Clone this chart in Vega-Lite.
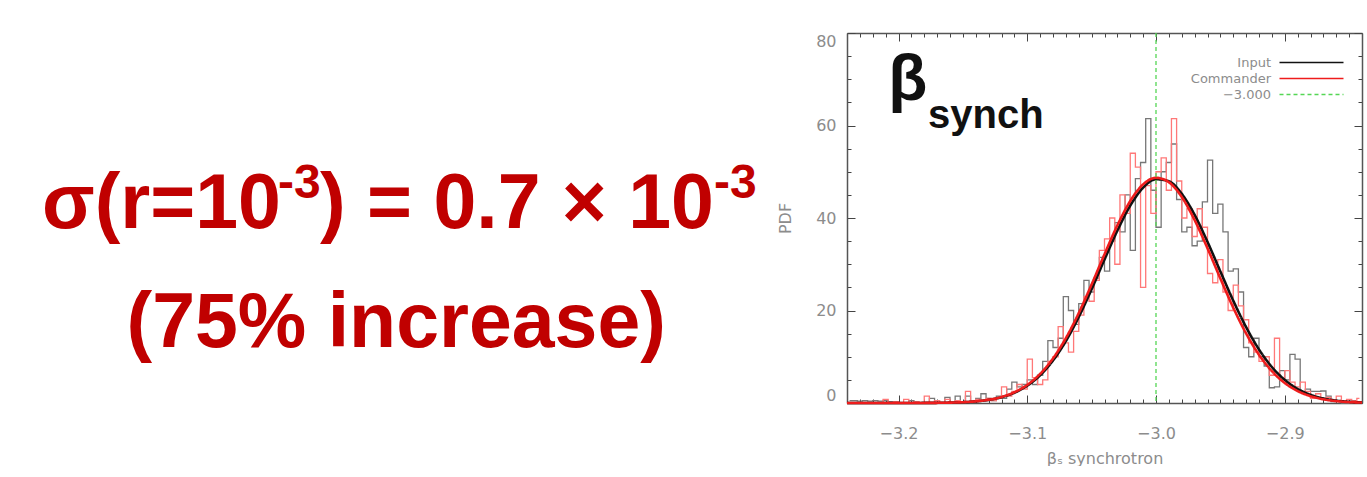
{
  "$schema": "https://vega.github.io/schema/vega-lite/v6.json",
  "background": "white",
  "padding": {"left": 0, "top": 32, "right": 0, "bottom": 0},
  "config": {
    "view": {"stroke": null},
    "font": "DejaVu Sans",
    "axis": {"grid": false}
  },
  "datasets": {
    "input_hist": [
      {"beta": -3.238, "pdf": 0.5}, {"beta": -3.234, "pdf": 0.5}, {"beta": -3.230, "pdf": 0.4}, {"beta": -3.226, "pdf": 0.5},
      {"beta": -3.222, "pdf": 0.4}, {"beta": -3.218, "pdf": 0.5}, {"beta": -3.214, "pdf": 0.4}, {"beta": -3.210, "pdf": 0.5},
      {"beta": -3.206, "pdf": 0.3}, {"beta": -3.202, "pdf": 0}, {"beta": -3.198, "pdf": 0}, {"beta": -3.194, "pdf": 0},
      {"beta": -3.190, "pdf": 0.5}, {"beta": -3.186, "pdf": 0}, {"beta": -3.182, "pdf": 0}, {"beta": -3.178, "pdf": 0},
      {"beta": -3.174, "pdf": 1.0}, {"beta": -3.170, "pdf": 0}, {"beta": -3.166, "pdf": 0}, {"beta": -3.162, "pdf": 1.2},
      {"beta": -3.158, "pdf": 0}, {"beta": -3.154, "pdf": 1.5}, {"beta": -3.150, "pdf": 0}, {"beta": -3.146, "pdf": 1.5},
      {"beta": -3.142, "pdf": 0.5}, {"beta": -3.138, "pdf": 1.0}, {"beta": -3.134, "pdf": 2.0}, {"beta": -3.130, "pdf": 1.0},
      {"beta": -3.126, "pdf": 0.5}, {"beta": -3.122, "pdf": 1.5}, {"beta": -3.118, "pdf": 1.0}, {"beta": -3.114, "pdf": 3.0},
      {"beta": -3.110, "pdf": 4.5}, {"beta": -3.106, "pdf": 3.5}, {"beta": -3.102, "pdf": 4.0}, {"beta": -3.098, "pdf": 5.0},
      {"beta": -3.094, "pdf": 4.0}, {"beta": -3.090, "pdf": 6.0}, {"beta": -3.086, "pdf": 9.0}, {"beta": -3.082, "pdf": 13.5},
      {"beta": -3.078, "pdf": 12.0}, {"beta": -3.074, "pdf": 14.0}, {"beta": -3.070, "pdf": 23.0}, {"beta": -3.066, "pdf": 20.0},
      {"beta": -3.062, "pdf": 17.0}, {"beta": -3.058, "pdf": 21.5}, {"beta": -3.054, "pdf": 26.5}, {"beta": -3.050, "pdf": 24.0},
      {"beta": -3.046, "pdf": 27.0}, {"beta": -3.042, "pdf": 31.5}, {"beta": -3.038, "pdf": 28.5}, {"beta": -3.034, "pdf": 35.0},
      {"beta": -3.030, "pdf": 39.0}, {"beta": -3.026, "pdf": 37.0}, {"beta": -3.022, "pdf": 45.0}, {"beta": -3.018, "pdf": 33.0},
      {"beta": -3.014, "pdf": 48.5}, {"beta": -3.010, "pdf": 52.0}, {"beta": -3.006, "pdf": 61.5}, {"beta": -3.002, "pdf": 46.0},
      {"beta": -2.998, "pdf": 38.0}, {"beta": -2.994, "pdf": 50.0}, {"beta": -2.990, "pdf": 52.0}, {"beta": -2.986, "pdf": 56.0},
      {"beta": -2.982, "pdf": 44.0}, {"beta": -2.978, "pdf": 37.0}, {"beta": -2.974, "pdf": 38.0}, {"beta": -2.970, "pdf": 34.0},
      {"beta": -2.966, "pdf": 35.0}, {"beta": -2.962, "pdf": 43.5}, {"beta": -2.958, "pdf": 52.5}, {"beta": -2.954, "pdf": 41.0},
      {"beta": -2.950, "pdf": 43.0}, {"beta": -2.946, "pdf": 37.0}, {"beta": -2.942, "pdf": 28.5}, {"beta": -2.938, "pdf": 29.0},
      {"beta": -2.934, "pdf": 24.0}, {"beta": -2.930, "pdf": 12.0}, {"beta": -2.926, "pdf": 10.0}, {"beta": -2.922, "pdf": 14.0},
      {"beta": -2.918, "pdf": 10.0}, {"beta": -2.914, "pdf": 8.0}, {"beta": -2.910, "pdf": 3.3}, {"beta": -2.906, "pdf": 3.5},
      {"beta": -2.902, "pdf": 7.0}, {"beta": -2.898, "pdf": 5.0}, {"beta": -2.894, "pdf": 10.5}, {"beta": -2.890, "pdf": 9.5},
      {"beta": -2.886, "pdf": 2.5}, {"beta": -2.882, "pdf": 3.0}, {"beta": -2.878, "pdf": 2.5}, {"beta": -2.874, "pdf": 2.5},
      {"beta": -2.870, "pdf": 2.6}, {"beta": -2.866, "pdf": 1.5}, {"beta": -2.862, "pdf": 0.3}, {"beta": -2.858, "pdf": 0.5},
      {"beta": -2.854, "pdf": 0}, {"beta": -2.850, "pdf": 0}, {"beta": -2.846, "pdf": 0.3}, {"beta": -2.842, "pdf": 0}
    ],
    "commander_hist": [
      {"beta": -3.238, "pdf": 0}, {"beta": -3.234, "pdf": 0}, {"beta": -3.230, "pdf": 0}, {"beta": -3.226, "pdf": 0},
      {"beta": -3.222, "pdf": 0}, {"beta": -3.218, "pdf": 0}, {"beta": -3.214, "pdf": 0}, {"beta": -3.210, "pdf": 0.8},
      {"beta": -3.206, "pdf": 0}, {"beta": -3.202, "pdf": 0.3}, {"beta": -3.198, "pdf": 0}, {"beta": -3.194, "pdf": 0.8},
      {"beta": -3.190, "pdf": 0}, {"beta": -3.186, "pdf": 0.3}, {"beta": -3.182, "pdf": 0}, {"beta": -3.178, "pdf": 1.5},
      {"beta": -3.174, "pdf": 0}, {"beta": -3.170, "pdf": 0.5}, {"beta": -3.166, "pdf": 0}, {"beta": -3.162, "pdf": 0.8},
      {"beta": -3.158, "pdf": 0}, {"beta": -3.154, "pdf": 0.5}, {"beta": -3.150, "pdf": 0.3}, {"beta": -3.146, "pdf": 2.5},
      {"beta": -3.142, "pdf": 0.5}, {"beta": -3.138, "pdf": 0.8}, {"beta": -3.134, "pdf": 0.5}, {"beta": -3.130, "pdf": 1.0},
      {"beta": -3.126, "pdf": 0.5}, {"beta": -3.122, "pdf": 1.0}, {"beta": -3.118, "pdf": 3.5}, {"beta": -3.114, "pdf": 1.5},
      {"beta": -3.110, "pdf": 2.5}, {"beta": -3.106, "pdf": 4.0}, {"beta": -3.102, "pdf": 3.0}, {"beta": -3.098, "pdf": 9.5},
      {"beta": -3.094, "pdf": 5.5}, {"beta": -3.090, "pdf": 4.0}, {"beta": -3.086, "pdf": 5.0}, {"beta": -3.082, "pdf": 9.0},
      {"beta": -3.078, "pdf": 10.0}, {"beta": -3.074, "pdf": 16.5}, {"beta": -3.070, "pdf": 13.0}, {"beta": -3.066, "pdf": 11.0},
      {"beta": -3.062, "pdf": 15.5}, {"beta": -3.058, "pdf": 19.0}, {"beta": -3.054, "pdf": 23.0}, {"beta": -3.050, "pdf": 22.0},
      {"beta": -3.046, "pdf": 26.5}, {"beta": -3.042, "pdf": 33.0}, {"beta": -3.038, "pdf": 35.5}, {"beta": -3.034, "pdf": 40.0},
      {"beta": -3.030, "pdf": 30.0}, {"beta": -3.026, "pdf": 45.0}, {"beta": -3.022, "pdf": 41.0}, {"beta": -3.018, "pdf": 54.0},
      {"beta": -3.014, "pdf": 51.0}, {"beta": -3.010, "pdf": 25.0}, {"beta": -3.006, "pdf": 47.0}, {"beta": -3.002, "pdf": 41.0},
      {"beta": -2.998, "pdf": 50.0}, {"beta": -2.994, "pdf": 53.0}, {"beta": -2.990, "pdf": 46.0}, {"beta": -2.986, "pdf": 61.5},
      {"beta": -2.982, "pdf": 48.0}, {"beta": -2.978, "pdf": 40.0}, {"beta": -2.974, "pdf": 42.0}, {"beta": -2.970, "pdf": 36.0},
      {"beta": -2.966, "pdf": 42.0}, {"beta": -2.962, "pdf": 38.0}, {"beta": -2.958, "pdf": 28.0}, {"beta": -2.954, "pdf": 26.0},
      {"beta": -2.950, "pdf": 31.0}, {"beta": -2.946, "pdf": 24.0}, {"beta": -2.942, "pdf": 20.0}, {"beta": -2.938, "pdf": 25.5},
      {"beta": -2.934, "pdf": 21.0}, {"beta": -2.930, "pdf": 18.0}, {"beta": -2.926, "pdf": 13.0}, {"beta": -2.922, "pdf": 11.0},
      {"beta": -2.918, "pdf": 9.0}, {"beta": -2.914, "pdf": 10.0}, {"beta": -2.910, "pdf": 6.0}, {"beta": -2.906, "pdf": 14.0},
      {"beta": -2.902, "pdf": 5.0}, {"beta": -2.898, "pdf": 7.0}, {"beta": -2.894, "pdf": 4.5}, {"beta": -2.890, "pdf": 3.5},
      {"beta": -2.886, "pdf": 4.5}, {"beta": -2.882, "pdf": 2.5}, {"beta": -2.878, "pdf": 1.0}, {"beta": -2.874, "pdf": 2.0},
      {"beta": -2.870, "pdf": 0.8}, {"beta": -2.866, "pdf": 1.2}, {"beta": -2.862, "pdf": 0.5}, {"beta": -2.858, "pdf": 1.5},
      {"beta": -2.854, "pdf": 0.3}, {"beta": -2.850, "pdf": 0.8}, {"beta": -2.846, "pdf": 0.5}, {"beta": -2.842, "pdf": 1.0}
    ],
    "fits": [
      {"series": "Input", "beta": -3.24, "pdf": 0}, {"series": "Input", "beta": -3.23, "pdf": 0}, {"series": "Input", "beta": -3.22, "pdf": 0},
      {"series": "Input", "beta": -3.21, "pdf": 0}, {"series": "Input", "beta": -3.20, "pdf": 0.01}, {"series": "Input", "beta": -3.19, "pdf": 0.01},
      {"series": "Input", "beta": -3.18, "pdf": 0.02}, {"series": "Input", "beta": -3.17, "pdf": 0.04}, {"series": "Input", "beta": -3.16, "pdf": 0.08},
      {"series": "Input", "beta": -3.15, "pdf": 0.17}, {"series": "Input", "beta": -3.14, "pdf": 0.35}, {"series": "Input", "beta": -3.13, "pdf": 0.68},
      {"series": "Input", "beta": -3.12, "pdf": 1.26}, {"series": "Input", "beta": -3.11, "pdf": 2.22}, {"series": "Input", "beta": -3.10, "pdf": 3.74},
      {"series": "Input", "beta": -3.09, "pdf": 6.00}, {"series": "Input", "beta": -3.08, "pdf": 9.19}, {"series": "Input", "beta": -3.07, "pdf": 13.39},
      {"series": "Input", "beta": -3.06, "pdf": 18.60}, {"series": "Input", "beta": -3.05, "pdf": 24.61}, {"series": "Input", "beta": -3.04, "pdf": 31.03},
      {"series": "Input", "beta": -3.03, "pdf": 37.28}, {"series": "Input", "beta": -3.02, "pdf": 42.68}, {"series": "Input", "beta": -3.01, "pdf": 46.56},
      {"series": "Input", "beta": -3.00, "pdf": 48.39}, {"series": "Input", "beta": -2.99, "pdf": 47.93}, {"series": "Input", "beta": -2.98, "pdf": 45.23},
      {"series": "Input", "beta": -2.97, "pdf": 40.67}, {"series": "Input", "beta": -2.96, "pdf": 34.84}, {"series": "Input", "beta": -2.95, "pdf": 28.44},
      {"series": "Input", "beta": -2.94, "pdf": 22.13}, {"series": "Input", "beta": -2.93, "pdf": 16.40}, {"series": "Input", "beta": -2.92, "pdf": 11.58},
      {"series": "Input", "beta": -2.91, "pdf": 7.79}, {"series": "Input", "beta": -2.90, "pdf": 5.00}, {"series": "Input", "beta": -2.89, "pdf": 3.05},
      {"series": "Input", "beta": -2.88, "pdf": 1.78}, {"series": "Input", "beta": -2.87, "pdf": 0.99}, {"series": "Input", "beta": -2.86, "pdf": 0.52},
      {"series": "Input", "beta": -2.85, "pdf": 0.26}, {"series": "Input", "beta": -2.84, "pdf": 0.13},
      {"series": "Commander", "beta": -3.24, "pdf": 0}, {"series": "Commander", "beta": -3.23, "pdf": 0}, {"series": "Commander", "beta": -3.22, "pdf": 0},
      {"series": "Commander", "beta": -3.21, "pdf": 0}, {"series": "Commander", "beta": -3.20, "pdf": 0.002}, {"series": "Commander", "beta": -3.19, "pdf": 0.006},
      {"series": "Commander", "beta": -3.18, "pdf": 0.015}, {"series": "Commander", "beta": -3.17, "pdf": 0.036}, {"series": "Commander", "beta": -3.16, "pdf": 0.08},
      {"series": "Commander", "beta": -3.15, "pdf": 0.17}, {"series": "Commander", "beta": -3.14, "pdf": 0.36}, {"series": "Commander", "beta": -3.13, "pdf": 0.70},
      {"series": "Commander", "beta": -3.12, "pdf": 1.31}, {"series": "Commander", "beta": -3.11, "pdf": 2.32}, {"series": "Commander", "beta": -3.10, "pdf": 3.92},
      {"series": "Commander", "beta": -3.09, "pdf": 6.30}, {"series": "Commander", "beta": -3.08, "pdf": 9.64}, {"series": "Commander", "beta": -3.07, "pdf": 14.03},
      {"series": "Commander", "beta": -3.06, "pdf": 19.43}, {"series": "Commander", "beta": -3.05, "pdf": 25.63}, {"series": "Commander", "beta": -3.04, "pdf": 32.16},
      {"series": "Commander", "beta": -3.03, "pdf": 38.41}, {"series": "Commander", "beta": -3.02, "pdf": 43.67}, {"series": "Commander", "beta": -3.01, "pdf": 47.27},
      {"series": "Commander", "beta": -3.00, "pdf": 48.69}, {"series": "Commander", "beta": -2.99, "pdf": 47.74}, {"series": "Commander", "beta": -2.98, "pdf": 44.55},
      {"series": "Commander", "beta": -2.97, "pdf": 39.56}, {"series": "Commander", "beta": -2.96, "pdf": 33.45}, {"series": "Commander", "beta": -2.95, "pdf": 26.92},
      {"series": "Commander", "beta": -2.94, "pdf": 20.62}, {"series": "Commander", "beta": -2.93, "pdf": 15.03}, {"series": "Commander", "beta": -2.92, "pdf": 10.43},
      {"series": "Commander", "beta": -2.91, "pdf": 6.89}, {"series": "Commander", "beta": -2.90, "pdf": 4.33}, {"series": "Commander", "beta": -2.89, "pdf": 2.59},
      {"series": "Commander", "beta": -2.88, "pdf": 1.48}, {"series": "Commander", "beta": -2.87, "pdf": 0.80}, {"series": "Commander", "beta": -2.86, "pdf": 0.41},
      {"series": "Commander", "beta": -2.85, "pdf": 0.20}, {"series": "Commander", "beta": -2.84, "pdf": 0.09}
    ],
    "reference": [{"series": "−3.000", "beta": -3.0}]
  },
  "bounds": "flush",
  "spacing": 67,
  "hconcat": [
    {
      "width": 780,
      "height": 370,
      "data": {"values": [{}]},
      "layer": [
        {
          "mark": {"type": "text", "text": "σ(r=10", "font": "Liberation Sans", "fontWeight": "bold", "fontSize": 77, "color": "#c00000", "align": "left", "baseline": "alphabetic"},
          "encoding": {
            "x": {"datum": 0.0538, "type": "quantitative", "scale": {"domain": [0, 1]}, "axis": null},
            "y": {"datum": 0.473, "type": "quantitative", "scale": {"domain": [0, 1]}, "axis": null}
          }
        },
        {
          "mark": {"type": "text", "text": "-3", "font": "Liberation Sans", "fontWeight": "bold", "fontSize": 48, "color": "#c00000", "align": "left", "baseline": "alphabetic"},
          "encoding": {
            "x": {"datum": 0.3564, "type": "quantitative"},
            "y": {"datum": 0.554, "type": "quantitative"}
          }
        },
        {
          "mark": {"type": "text", "text": ") = 0.7 × 10", "font": "Liberation Sans", "fontWeight": "bold", "fontSize": 77, "color": "#c00000", "align": "left", "baseline": "alphabetic"},
          "encoding": {
            "x": {"datum": 0.4103, "type": "quantitative"},
            "y": {"datum": 0.473, "type": "quantitative"}
          }
        },
        {
          "mark": {"type": "text", "text": "-3", "font": "Liberation Sans", "fontWeight": "bold", "fontSize": 48, "color": "#c00000", "align": "left", "baseline": "alphabetic"},
          "encoding": {
            "x": {"datum": 0.9154, "type": "quantitative"},
            "y": {"datum": 0.554, "type": "quantitative"}
          }
        },
        {
          "mark": {"type": "text", "text": "(75% increase)", "font": "Liberation Sans", "fontWeight": "bold", "fontSize": 77, "color": "#c00000", "align": "center", "baseline": "alphabetic"},
          "encoding": {
            "x": {"datum": 0.508, "type": "quantitative"},
            "y": {"datum": 0.151, "type": "quantitative"}
          }
        }
      ]
    },
    {
      "width": 515,
      "height": 370,
      "layer": [
        {
          "data": {"name": "input_hist"},
          "mark": {"type": "line", "interpolate": "step", "stroke": "#777777", "strokeWidth": 1.3},
          "encoding": {
            "x": {
              "field": "beta", "type": "quantitative",
              "scale": {"domain": [-3.24, -2.84], "nice": false, "zero": false},
              "axis": {
                "orient": "bottom", "title": "βₛ synchrotron",
                "values": [-3.24,-3.23,-3.22,-3.21,-3.2,-3.19,-3.18,-3.17,-3.16,-3.15,-3.14,-3.13,-3.12,-3.11,-3.1,-3.09,-3.08,-3.07,-3.06,-3.05,-3.04,-3.03,-3.02,-3.01,-3,-2.99,-2.98,-2.97,-2.96,-2.95,-2.94,-2.93,-2.92,-2.91,-2.9,-2.89,-2.88,-2.87,-2.86,-2.85,-2.84],
                "format": ".1f",
                "labelExpr": "abs(datum.value * 10 - round(datum.value * 10)) < 0.001 ? datum.label : ''",
                "tickSize": {"condition": {"test": "abs(datum.value * 10 - round(datum.value * 10)) < 0.001", "value": -8}, "value": -4},
                "tickColor": "#444444", "tickWidth": 1,
                "domainColor": "#555555", "domainWidth": 1.5,
                "labelColor": "#8c8c8c", "labelFont": "DejaVu Sans", "labelFontSize": 16, "labelPadding": 30,
                "labelOverlap": false, "labelFlush": false,
                "titleColor": "#8c8c8c", "titleFont": "DejaVu Sans", "titleFontSize": 16, "titleFontWeight": "normal", "titlePadding": 5
              }
            },
            "y": {
              "field": "pdf", "type": "quantitative",
              "scale": {"domain": [0, 80], "nice": false},
              "axis": {
                "orient": "left", "title": "PDF",
                "values": [0,5,10,15,20,25,30,35,40,45,50,55,60,65,70,75,80],
                "labelExpr": "datum.value % 20 === 0 ? datum.label : ''",
                "tickSize": {"condition": {"test": "datum.value % 20 === 0", "value": -8}, "value": -4},
                "tickColor": "#444444", "tickWidth": 1,
                "domainColor": "#555555", "domainWidth": 1.5,
                "labelColor": "#8c8c8c", "labelFont": "DejaVu Sans", "labelFontSize": 16, "labelPadding": 19,
                "labelOverlap": false, "labelFlush": true,
                "titleColor": "#8c8c8c", "titleFont": "DejaVu Sans", "titleFontSize": 16, "titleFontWeight": "normal", "titlePadding": 22
              }
            }
          }
        },
        {
          "data": {"name": "commander_hist"},
          "mark": {"type": "line", "interpolate": "step", "stroke": "#ff7878", "strokeWidth": 1.3},
          "encoding": {
            "x": {
              "field": "beta", "type": "quantitative",
              "axis": {
                "orient": "top", "title": null, "labels": false,
                "values": [-3.24,-3.23,-3.22,-3.21,-3.2,-3.19,-3.18,-3.17,-3.16,-3.15,-3.14,-3.13,-3.12,-3.11,-3.1,-3.09,-3.08,-3.07,-3.06,-3.05,-3.04,-3.03,-3.02,-3.01,-3,-2.99,-2.98,-2.97,-2.96,-2.95,-2.94,-2.93,-2.92,-2.91,-2.9,-2.89,-2.88,-2.87,-2.86,-2.85,-2.84],
                "tickSize": {"condition": {"test": "abs(datum.value * 10 - round(datum.value * 10)) < 0.001", "value": -8}, "value": -4},
                "tickColor": "#444444", "tickWidth": 1,
                "domainColor": "#555555", "domainWidth": 1.5
              }
            },
            "y": {
              "field": "pdf", "type": "quantitative",
              "axis": {
                "orient": "right", "title": null, "labels": false,
                "values": [0,5,10,15,20,25,30,35,40,45,50,55,60,65,70,75,80],
                "tickSize": {"condition": {"test": "datum.value % 20 === 0", "value": -8}, "value": -4},
                "tickColor": "#444444", "tickWidth": 1,
                "domainColor": "#555555", "domainWidth": 1.5
              }
            }
          }
        },
        {
          "data": {"name": "fits"},
          "mark": {"type": "line", "interpolate": "monotone", "strokeWidth": 2.6},
          "encoding": {
            "x": {"field": "beta", "type": "quantitative", "axis": null},
            "y": {"field": "pdf", "type": "quantitative", "axis": null},
            "color": {
              "field": "series", "type": "nominal",
              "scale": {"domain": ["Input", "Commander", "−3.000"], "range": ["#111111", "#ee1c1c", "#55d655"]},
              "legend": {
                "orient": "none", "legendX": 1305, "legendY": 23, "title": null,
                "symbolType": "M-8,0H8", "symbolSize": 64, "symbolStrokeWidth": 1.5,
                "labelAlign": "right", "labelOffset": -47,
                "labelFont": "DejaVu Sans", "labelFontSize": 13, "labelColor": "#8c8c8c",
                "rowPadding": 2
              }
            },
            "strokeDash": {
              "field": "series", "type": "nominal",
              "scale": {"domain": ["Input", "Commander", "−3.000"], "range": [[1, 0], [1, 0], [4, 3]]}
            }
          }
        },
        {
          "data": {"name": "reference"},
          "mark": {"type": "rule", "strokeWidth": 1.3},
          "encoding": {
            "x": {"field": "beta", "type": "quantitative", "axis": null},
            "color": {"field": "series", "type": "nominal"},
            "strokeDash": {"field": "series", "type": "nominal"}
          }
        },
        {
          "data": {"values": [{}]},
          "mark": {"type": "text", "text": "β", "font": "Liberation Sans", "fontWeight": "bold", "fontSize": 64, "color": "#111111", "align": "left", "baseline": "alphabetic"},
          "encoding": {
            "x": {"datum": -3.208, "type": "quantitative", "axis": null},
            "y": {"datum": 65.5, "type": "quantitative", "axis": null}
          }
        },
        {
          "data": {"values": [{}]},
          "mark": {"type": "text", "text": "synch", "font": "Liberation Sans", "fontWeight": "bold", "fontSize": 40, "color": "#111111", "align": "left", "baseline": "alphabetic"},
          "encoding": {
            "x": {"datum": -3.177, "type": "quantitative", "axis": null},
            "y": {"datum": 59.5, "type": "quantitative", "axis": null}
          }
        }
      ],
      "resolve": {"axis": {"x": "independent", "y": "independent"}}
    }
  ]
}
